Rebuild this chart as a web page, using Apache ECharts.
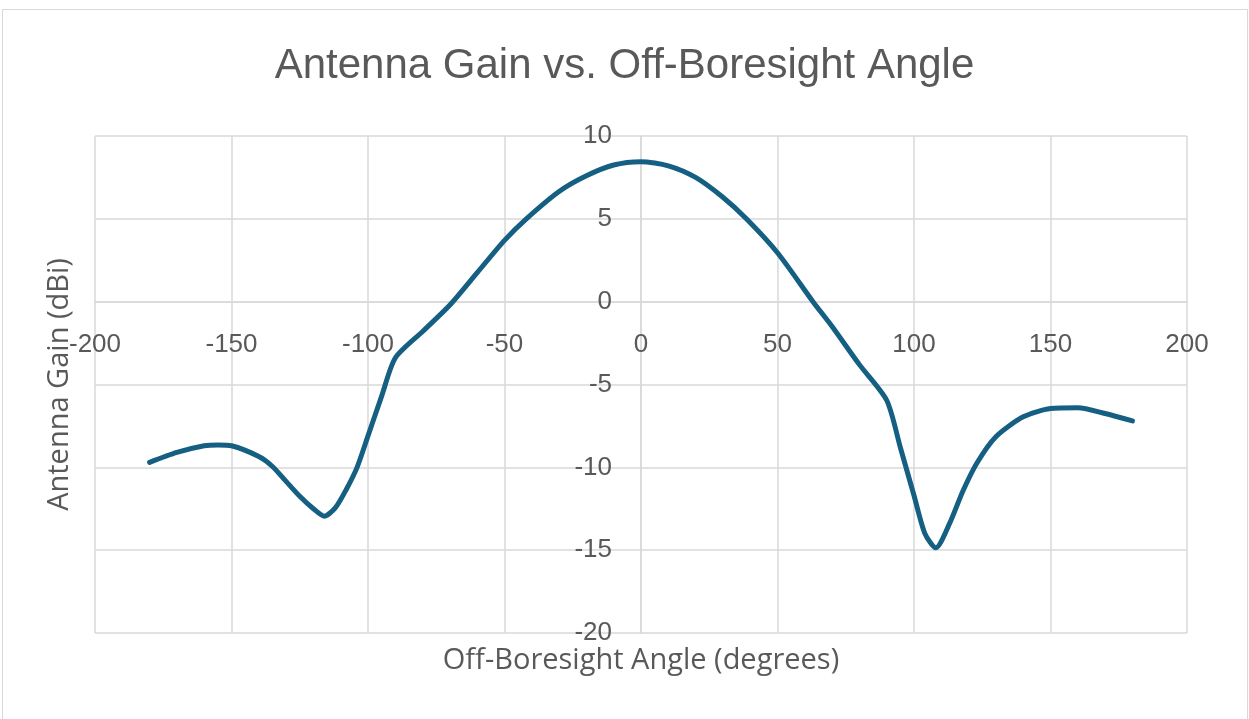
<!DOCTYPE html>
<html>
<head>
<meta charset="utf-8">
<script src="https://cdn.jsdelivr.net/npm/echarts@6/dist/echarts.min.js"></script>
<style>
  html, body { margin: 0; padding: 0; background: #fff; }
  #chart { width: 1249px; height: 719px; }
</style>
</head>
<body>
<div id="chart"></div>
<script>
// angle (deg) and gain (dBi)
var angles = [-180, -170, -160, -155, -150, -140, -135, -130, -125, -120, -116, -112, -108, -104, -100, -95, -90,
              -80, -70, -60, -50, -42, -30, -20, -10, 0, 10, 20, 30, 38.6, 50, 63, 70, 80, 90,
              95, 100, 104, 108, 113, 118, 123, 130, 140, 150, 160, 170, 180];
var gains = [-9.7, -9.1, -8.7, -8.65, -8.7, -9.35, -9.95, -10.85, -11.75, -12.5, -12.95, -12.45, -11.35, -10.0, -8.1, -5.7, -3.4,
             -1.8, -0.2, 1.75, 3.7, 5.0, 6.65, 7.6, 8.25, 8.45, 8.2, 7.5, 6.3, 5.0, 2.95, 0, -1.5, -3.8, -5.95,
             -8.8, -11.7, -14.0, -14.85, -13.4, -11.4, -9.75, -8.15, -6.95, -6.45, -6.4, -6.75, -7.2];

var title = 'Antenna Gain vs. Off-Boresight Angle';
var xName = 'Off-Boresight Angle (degrees)';
var yName = 'Antenna Gain (dBi)';

(function () {
    var dom = document.getElementById('chart');
    var myChart = echarts.init(dom);
    var points = [];
    for (var i = 0; i < angles.length; i++) {
        points.push([angles[i], gains[i]]);
    }
    var gridColor = '#d9d9d9';
    var textColor = '#595959';
    // grid box; axes are shifted onto the zero lines with offset
    var gLeft = 95, gRight = 62, gTop = 136, gBottom = 86;
    var gW = 1249 - gLeft - gRight, gH = 719 - gTop - gBottom;
    var yOffset = -(gH * 20 / 30);   // x axis moves up to y = 0
    var xOffset = -(gW * 200 / 400); // y axis moves right to x = 0
    var option = {
        animation: false,
        backgroundColor: '#fff',
        graphic: [{
            type: 'rect',
            shape: { x: 2.5, y: 9.5, width: 1245, height: 740 },
            style: { fill: 'none', stroke: '#d9d9d9', lineWidth: 1 },
            silent: true
        }],
        title: {
            text: title,
            left: 'center',
            top: 40,
            textStyle: {
                fontFamily: 'Liberation Sans, sans-serif',
                fontWeight: 'normal',
                fontSize: 42,
                color: textColor
            }
        },
        grid: { left: gLeft, right: gRight, top: gTop, bottom: gBottom, containLabel: false, outerBoundsMode: 'none' },
        xAxis: {
            type: 'value',
            min: -200, max: 200, interval: 50,
            offset: yOffset,
            name: xName,
            nameLocation: 'middle',
            nameGap: 345,
            nameTextStyle: {
                fontFamily: 'Open Sans, sans-serif',
                fontSize: 29,
                color: textColor
            },
            axisLine: { onZero: false, lineStyle: { color: gridColor, width: 1.5 } },
            axisTick: { show: false },
            axisLabel: {
                margin: 30,
                fontFamily: 'Liberation Sans, sans-serif',
                fontSize: 26,
                color: textColor
            },
            splitLine: { show: true, lineStyle: { color: gridColor, width: 1.5 } }
        },
        yAxis: {
            type: 'value',
            min: -20, max: 10, interval: 5,
            offset: xOffset,
            name: yName,
            nameLocation: 'middle',
            nameRotate: 90,
            nameGap: 567,
            nameTextStyle: {
                fontFamily: 'Open Sans, sans-serif',
                fontSize: 29,
                color: textColor
            },
            axisLine: { onZero: false, lineStyle: { color: gridColor, width: 1.5 } },
            axisTick: { show: false },
            axisLabel: {
                margin: 29,
                fontFamily: 'Liberation Sans, sans-serif',
                fontSize: 26,
                color: textColor
            },
            splitLine: { show: true, lineStyle: { color: gridColor, width: 1.5 } }
        },
        series: [{
            type: 'line',
            data: points,
            smooth: 0.25,
            showSymbol: false,
            lineStyle: { color: '#156082', width: 5, cap: 'round', join: 'round' }
        }]
    };
    myChart.setOption(option, true);
})();
</script>
</body>
</html>
